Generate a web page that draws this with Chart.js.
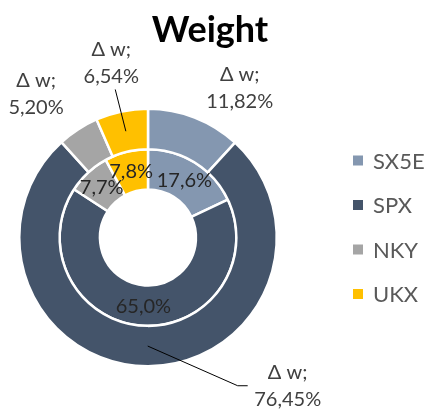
<!DOCTYPE html>
<html>
<head>
<meta charset="utf-8">
<script src="https://cdn.jsdelivr.net/npm/chart.js@4"></script>
<style>
    html, body { margin: 0; padding: 0; background: #fff; }
    #wrap { width: 428px; height: 409px; }
</style>
</head>
<body>
<div id="wrap"><canvas id="weight-chart" width="428" height="409"></canvas></div>
<script>
// chart data
const categories = ['SX5E', 'SPX', 'NKY', 'UKX'];
const deltaWeights = [11.82, 76.45, 5.20, 6.54]; // outer ring
const weights = [17.6, 65.0, 7.7, 7.8];          // inner ring
const sliceColors = ['#8497B0', '#44546A', '#A5A5A5', '#FFC000'];

const FONT = "Lato, 'Open Sans', 'DejaVu Sans', sans-serif";

// where the outer labels sit, relative to the slice's outer edge midpoint
const outerLabelOffsets = [
    { dx: 45, dy: -30 },
    { dx: 140, dy: 19, leader: [[90, 19.5], [100, 19.5]] },
    { dx: -42, dy: -36 },
    { dx: -10.5, dy: -49, leader: [[-6.5, -22]] }
];

function fmt(v, digits) {
    return v.toFixed(digits).replace('.', ',') + '%';
}

const labelsPlugin = {
    id: 'weightLabels',
    afterDatasetsDraw(chart) {
        const ctx = chart.ctx;
        ctx.save();

        // title
        ctx.fillStyle = '#000';
        ctx.font = 'bold 36px ' + FONT;
        ctx.textAlign = 'center';
        ctx.textBaseline = 'alphabetic';
        ctx.fillText('Weight', 210, 42);

        // outer ring labels
        const outer = chart.getDatasetMeta(0).data;
        ctx.font = '20px ' + FONT;
        ctx.fillStyle = '#404040';
        outer.forEach((arc, i) => {
            const p = arc.getProps(['x', 'y', 'startAngle', 'endAngle', 'innerRadius', 'outerRadius'], true);
            const mid = (p.startAngle + p.endAngle) / 2;
            const ex = p.x + p.outerRadius * Math.cos(mid);
            const ey = p.y + p.outerRadius * Math.sin(mid);
            const o = outerLabelOffsets[i];
            const cx = ex + o.dx, cy = ey + o.dy;
            ctx.fillText('\u0394 w;', cx, cy - 13.5 + 7);
            ctx.fillText(fmt(deltaWeights[i], 2), cx, cy + 13.5 + 7);

            if (o.leader) {
                const rm = (p.innerRadius + p.outerRadius) / 2;
                ctx.beginPath();
                ctx.moveTo(p.x + rm * Math.cos(mid), p.y + rm * Math.sin(mid));
                o.leader.forEach(pt => ctx.lineTo(ex + pt[0], ey + pt[1]));
                ctx.strokeStyle = '#000';
                ctx.lineWidth = 1;
                ctx.stroke();
            }
        });

        // inner ring labels
        const inner = chart.getDatasetMeta(1).data;
        ctx.fillStyle = '#262626';
        inner.forEach((arc, i) => {
            const c = arc.getCenterPoint(true);
            ctx.fillText(fmt(weights[i], 1), c.x, c.y + 7);
        });

        // legend
        ctx.textAlign = 'left';
        ctx.font = '22px ' + FONT;
        categories.forEach((name, i) => {
            const y = 160.5 + i * 44.5;
            ctx.fillStyle = sliceColors[i];
            ctx.fillRect(353, y - 5, 10, 10);
            ctx.fillStyle = '#595959';
            ctx.fillText(name, 373, y + 8);
        });

        ctx.restore();
    }
};

new Chart(document.getElementById('weight-chart'), {
    type: 'doughnut',
    data: {
        labels: categories,
        datasets: [
            {
                label: '\u0394 w',
                data: deltaWeights,
                backgroundColor: sliceColors,
                borderColor: '#fff',
                borderWidth: 2.5
            },
            {
                label: 'Weight',
                data: weights,
                backgroundColor: sliceColors,
                borderColor: '#fff',
                borderWidth: 2.5
            }
        ]
    },
    options: {
        responsive: false,
        animation: false,
        cutout: 48,
        layout: { padding: { left: 18, right: 150, top: 107.5, bottom: 41.5 } },
        plugins: {
            legend: { display: false },
            title: { display: false },
            tooltip: { enabled: false }
        }
    },
    plugins: [labelsPlugin]
});
</script>
</body>
</html>
